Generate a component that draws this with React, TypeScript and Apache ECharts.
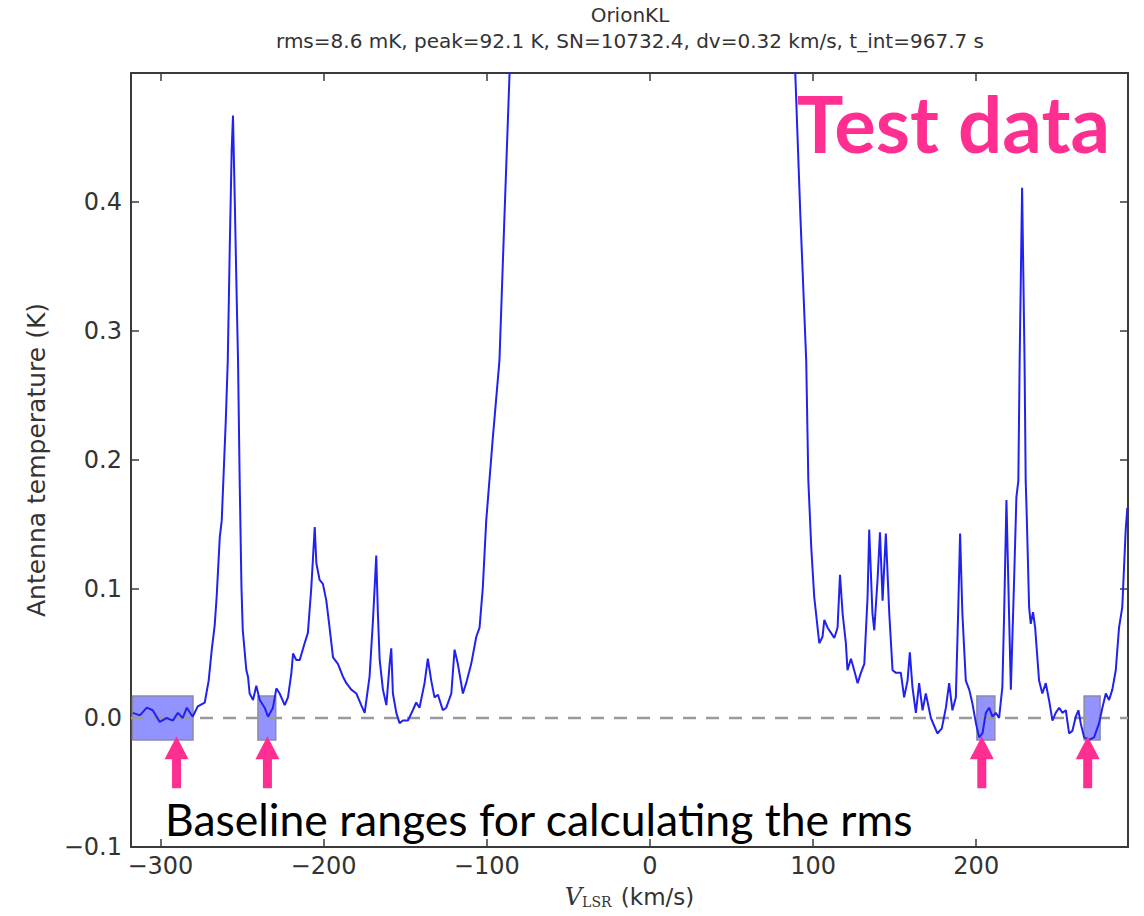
import React, { useEffect, useRef } from 'react';
import * as echarts from 'echarts';

// ---- Data (V_LSR in km/s, antenna temperature in K) ----
const xRange = [-318, 293];
const yRange = [-0.1, 0.5];
const yTickStep = 0.1;

const blueWingPoints: [number, number][] = [
  [-316.9, 0.004], [-312.6, 0.002], [-308.3, 0.008], [-304.7, 0.006], [-300.4, -0.003],
  [-296.1, 0.0], [-292.4, -0.002], [-289.3, 0.004], [-286.3, 0.0], [-283.8, 0.008],
  [-280.2, 0.001], [-277.1, 0.009], [-272.8, 0.012], [-270.4, 0.029], [-268.5, 0.053],
  [-266.7, 0.072], [-265.5, 0.094], [-263.6, 0.14], [-262.4, 0.153], [-259.9, 0.231],
  [-258.7, 0.277], [-257.5, 0.363], [-256.3, 0.44], [-255.5, 0.467], [-254.4, 0.401],
  [-253.2, 0.324], [-252.4, 0.277], [-251.4, 0.184], [-250.3, 0.101], [-249.5, 0.068],
  [-247.3, 0.037], [-246.3, 0.032], [-245.3, 0.019], [-243.2, 0.014], [-241.2, 0.025],
  [-239.1, 0.014], [-236.1, 0.008], [-234.0, 0.001], [-231.0, 0.008], [-228.9, 0.023],
  [-226.9, 0.019], [-223.8, 0.01], [-221.8, 0.016], [-219.7, 0.035], [-218.7, 0.05],
  [-216.7, 0.045], [-214.6, 0.045], [-211.6, 0.058], [-209.6, 0.066], [-207.5, 0.101],
  [-205.4, 0.148], [-204.4, 0.12], [-202.4, 0.107], [-200.4, 0.104], [-198.3, 0.091],
  [-196.3, 0.07], [-194.2, 0.047], [-191.2, 0.042], [-188.1, 0.032], [-186.0, 0.027],
  [-183.0, 0.022], [-179.9, 0.019], [-176.9, 0.01], [-174.8, 0.004], [-171.8, 0.032],
  [-169.7, 0.076], [-167.7, 0.126], [-166.7, 0.081], [-165.6, 0.045], [-163.6, 0.022],
  [-161.5, 0.01], [-159.5, 0.042], [-158.5, 0.054], [-157.5, 0.019], [-155.4, 0.004],
  [-153.4, -0.004], [-151.4, -0.002], [-148.3, -0.002], [-145.3, 0.006], [-143.2, 0.012],
  [-141.2, 0.008], [-138.1, 0.027], [-136.1, 0.046], [-134.0, 0.029], [-132.0, 0.016],
  [-129.9, 0.018], [-126.9, 0.006], [-124.8, 0.008], [-121.7, 0.019], [-119.7, 0.053],
  [-117.7, 0.042], [-114.6, 0.019], [-112.6, 0.027], [-109.5, 0.042], [-106.4, 0.063],
  [-104.4, 0.07], [-102.4, 0.101], [-100.3, 0.153], [-96.4, 0.215], [-92.2, 0.277],
  [-89.1, 0.39], [-86.0, 0.5],
];

const centralLinePoints: [number, number][] = [
  [-84.5, 0.6], [-78, 1.5], [-60, 8], [-30, 45], [0, 92.1], [30, 45], [60, 8], [80, 1.5], [87.5, 0.58],
];

const redWingPoints: [number, number][] = [
  [89.1, 0.4995], [92.2, 0.39], [95.8, 0.277], [97.1, 0.184], [98.9, 0.132], [100.7, 0.094],
  [103.8, 0.058], [105.8, 0.063], [106.9, 0.076], [108.9, 0.07], [111.0, 0.066], [113.0, 0.062],
  [115.0, 0.07], [116.5, 0.111], [118.1, 0.081], [120.1, 0.058], [121.1, 0.037], [123.2, 0.046],
  [125.2, 0.037], [127.3, 0.027], [129.3, 0.035], [131.4, 0.042], [133.4, 0.094], [134.4, 0.146],
  [136.4, 0.081], [137.5, 0.068], [139.5, 0.107], [141.0, 0.144], [142.6, 0.091], [144.6, 0.143],
  [146.7, 0.081], [148.7, 0.037], [150.8, 0.035], [153.8, 0.035], [155.8, 0.016], [157.9, 0.029],
  [159.3, 0.051], [160.9, 0.024], [163.0, 0.004], [165.0, 0.027], [167.1, 0.006], [169.1, 0.019],
  [172.2, 0.0], [174.2, -0.006], [176.2, -0.012], [178.9, -0.008], [181.4, 0.008], [183.4, 0.027],
  [185.4, 0.006], [187.5, 0.016], [188.9, 0.081], [190.1, 0.143], [191.5, 0.081], [193.6, 0.029],
  [195.7, 0.022], [197.7, 0.011], [199.8, -0.004], [201.8, -0.015], [203.8, -0.012], [205.9, 0.004],
  [207.9, 0.008], [209.9, 0.001], [212.0, 0.004], [214.0, 0.0], [216.0, 0.024], [217.1, 0.081],
  [218.5, 0.169], [220.1, 0.081], [221.2, 0.022], [223.2, 0.107], [224.6, 0.171], [225.8, 0.184],
  [226.6, 0.277], [228.1, 0.411], [229.6, 0.277], [230.3, 0.184], [230.9, 0.159], [232.4, 0.086],
  [233.4, 0.073], [234.8, 0.082], [236.1, 0.07], [238.5, 0.029], [240.5, 0.019], [242.6, 0.027],
  [244.6, 0.014], [246.7, -0.002], [248.7, 0.004], [250.8, 0.008], [252.8, 0.004], [254.9, 0.006],
  [256.9, -0.012], [258.9, -0.01], [261.0, 0.001], [262.6, 0.006], [264.0, -0.004], [266.1, -0.015],
  [269.1, -0.017], [272.2, -0.015], [275.3, -0.004], [277.3, 0.008], [279.4, 0.019], [281.4, 0.014],
  [283.4, 0.022], [285.5, 0.037], [287.5, 0.07], [289.5, 0.086], [291.6, 0.146], [292.6, 0.163],
];

// baseline windows used for the rms (km/s)
const baselineWindows: [number, number][] = [
  [-317.1, -280.0], [-240.2, -229.3], [200.4, 211.4], [266.1, 275.9],
];
const baselineBoxHalfHeight = 0.017;

// arrows pointing at the baseline windows
const arrowVelocities = [-290.1, -234.4, 203.4, 268.3];
const arrowCentreT = -0.0343;

const titleLine1 = 'OrionKL';
const titleLine2 = 'rms=8.6 mK, peak=92.1 K, SN=10732.4, dv=0.32 km/s, t_int=967.7 s';
const yAxisTitle = 'Antenna temperature (K)';
const annotationText = 'Baseline ranges for calculating the rms';
const stampText = 'Test data';

const PINK = '#ff2f92';
const AXIS_COLOR = '#3a3a3a';
const TICK_FONT = { fontFamily: 'DejaVu Sans', fontSize: 24, color: '#333' };

const fmtX = (v: number) => (v < 0 ? '\u2212' : '') + Math.abs(Math.round(v));
const fmtY = (v: number) => {
  const s = (Math.abs(v) < 1e-9 ? 0 : v).toFixed(1);
  return s.replace('-', '\u2212');
};

const ARROW_PATH = 'path://M12,0 L24,23 L16.5,23 L16.5,52 L7.5,52 L7.5,23 L0,23 Z';

export default function App() {
  const ref = useRef<HTMLDivElement>(null);

  useEffect(() => {
    if (!ref.current) return;
    const chart = echarts.init(ref.current, null, { renderer: 'svg' });

    const spectrum = [...blueWingPoints, ...centralLinePoints, ...redWingPoints];

    const commonX = {
      type: 'value' as const,
      min: xRange[0],
      max: xRange[1],
      splitNumber: 6,
      splitLine: { show: false },
      axisLine: { show: true, onZero: false, lineStyle: { color: AXIS_COLOR, width: 2 } },
      axisTick: { show: true, inside: true, length: 8, lineStyle: { color: AXIS_COLOR, width: 1.5 } },
    };
    const commonY = {
      type: 'value' as const,
      min: yRange[0],
      max: yRange[1],
      interval: yTickStep,
      splitLine: { show: false },
      axisLine: { show: true, onZero: false, lineStyle: { color: AXIS_COLOR, width: 2 } },
      axisTick: { show: true, inside: true, length: 8, lineStyle: { color: AXIS_COLOR, width: 1.5 } },
    };

    chart.setOption({
      animation: false,
      backgroundColor: '#ffffff',
      grid: { left: 131, right: 16, top: 73, bottom: 69, containLabel: false },
      xAxis: [
        {
          ...commonX,
          position: 'bottom',
          axisLabel: { ...TICK_FONT, margin: 7, formatter: fmtX, showMinLabel: false, showMaxLabel: false },
          name: '{v|V}{s|LSR} (km/s)',
          nameLocation: 'middle',
          nameGap: 38,
          nameTextStyle: {
            fontFamily: 'DejaVu Sans',
            fontSize: 23,
            color: '#333',
            rich: {
              v: { fontFamily: 'DejaVu Serif', fontStyle: 'italic', fontSize: 24, color: '#333' },
              s: { fontFamily: 'DejaVu Serif', fontSize: 14, color: '#333', verticalAlign: 'bottom', padding: [10, 2, 0, 0] },
            },
          },
        },
        { ...commonX, position: 'top', axisLabel: { show: false } },
      ],
      yAxis: [
        {
          ...commonY,
          position: 'left',
          axisLabel: { ...TICK_FONT, margin: 9, formatter: fmtY, showMaxLabel: false },
          name: yAxisTitle,
          nameLocation: 'middle',
          nameRotate: 90,
          nameGap: 82,
          nameTextStyle: { fontFamily: 'DejaVu Sans', fontSize: 25, color: '#333' },
        },
        { ...commonY, position: 'right', axisLabel: { show: false } },
      ],
      series: [
        {
          name: 'baseline windows',
          type: 'line',
          data: [],
          z: 1,
          silent: true,
          markArea: {
            silent: true,
            itemStyle: { color: 'rgba(40,40,255,0.5)', borderColor: '#8a8aa8', borderWidth: 1.5 },
            data: baselineWindows.map(([a, b]) => [
              { xAxis: a, yAxis: -baselineBoxHalfHeight },
              { xAxis: b, yAxis: baselineBoxHalfHeight },
            ]),
          },
        },
        {
          name: 'zero',
          type: 'line',
          z: 2,
          silent: true,
          symbol: 'none',
          data: [[xRange[0], 0], [xRange[1], 0]],
          lineStyle: { color: '#9a9a9a', width: 2.5, type: [13, 10] },
        },
        {
          name: 'spectrum',
          type: 'line',
          z: 3,
          symbol: 'none',
          clip: true,
          data: spectrum,
          lineStyle: { color: '#2222ee', width: 2 },
        },
        {
          name: 'arrows',
          type: 'scatter',
          z: 5,
          symbol: ARROW_PATH,
          symbolSize: [24, 52],
          data: arrowVelocities.map((v) => [v, arrowCentreT]),
          itemStyle: { color: PINK, opacity: 1 },
          clip: false,
        },
      ],
      graphic: [
        {
          type: 'text',
          x: 630,
          y: 15,
          style: {
            text: titleLine1, fontFamily: 'DejaVu Sans', fontSize: 20, fill: '#333',
            align: 'center', verticalAlign: 'middle', textAlign: 'center', textVerticalAlign: 'middle',
          },
        },
        {
          type: 'text',
          x: 630,
          y: 41,
          style: {
            text: titleLine2, fontFamily: 'DejaVu Sans', fontSize: 20, fill: '#333',
            align: 'center', verticalAlign: 'middle', textAlign: 'center', textVerticalAlign: 'middle',
          },
        },
        {
          type: 'text',
          x: 165,
          y: 818,
          z: 10,
          style: {
            text: annotationText, fontFamily: 'Lato', fontSize: 44.5, fill: '#000',
            align: 'left', verticalAlign: 'middle', textAlign: 'left', textVerticalAlign: 'middle',
          },
        },
        {
          type: 'text',
          x: 1110,
          y: 123,
          z: 10,
          style: {
            text: stampText, fontFamily: 'Lato', fontWeight: 'bold', fontSize: 78, fill: PINK,
            align: 'right', verticalAlign: 'middle', textAlign: 'right', textVerticalAlign: 'middle',
          },
        },
      ],
    });

    return () => chart.dispose();
  }, []);

  return (
    <div
      ref={ref}
      style={{ position: 'fixed', left: 0, top: 0, width: 1144, height: 916, background: '#fff' }}
    />
  );
}
